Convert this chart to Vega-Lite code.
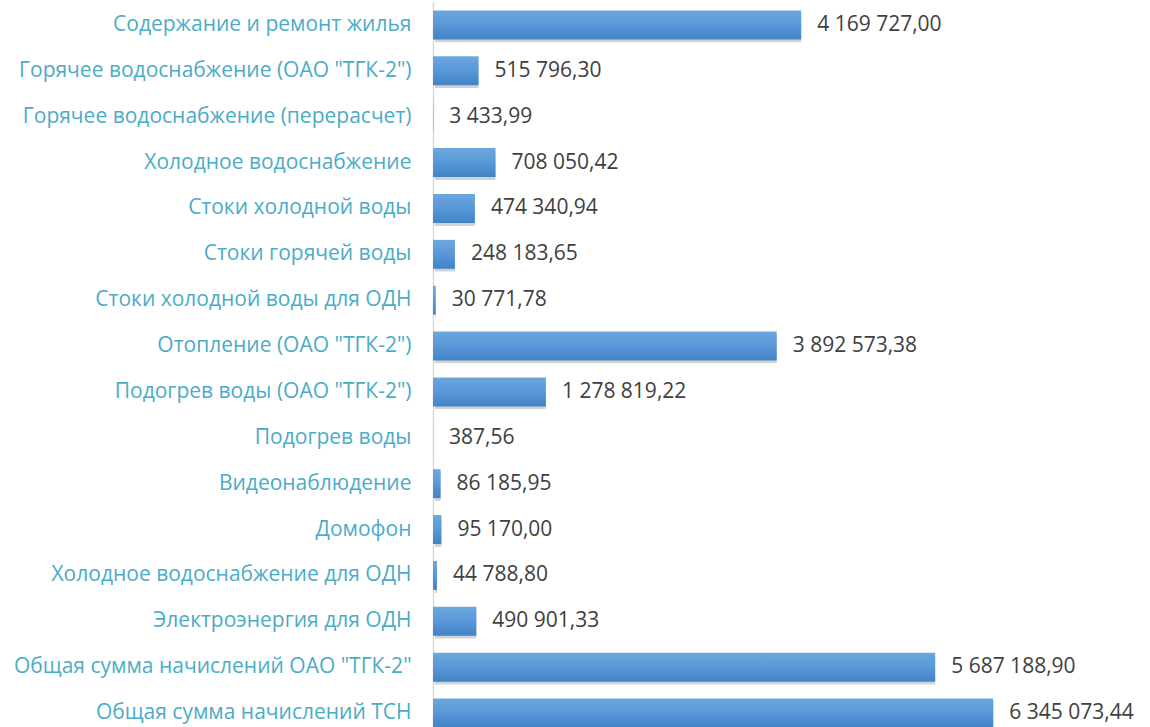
{
  "$schema": "https://vega.github.io/schema/vega-lite/v6.json",
  "autosize": {"type": "none"},
  "padding": {"left": 433, "top": 0, "right": 0, "bottom": 0},
  "width": 717,
  "height": 727,
  "background": "white",
  "config": {
    "view": {"stroke": null},
    "locale": {"number": {"decimal": ",", "thousands": " ", "grouping": [3], "currency": ["", ""]}}
  },
  "data": {"values": [
    {"cat": "Содержание и ремонт жилья", "v": 4169727.00},
    {"cat": "Горячее водоснабжение (ОАО \"ТГК-2\")", "v": 515796.30},
    {"cat": "Горячее водоснабжение (перерасчет)", "v": 3433.99},
    {"cat": "Холодное водоснабжение", "v": 708050.42},
    {"cat": "Стоки холодной воды", "v": 474340.94},
    {"cat": "Стоки горячей воды", "v": 248183.65},
    {"cat": "Стоки холодной воды для ОДН", "v": 30771.78},
    {"cat": "Отопление (ОАО \"ТГК-2\")", "v": 3892573.38},
    {"cat": "Подогрев воды (ОАО \"ТГК-2\")", "v": 1278819.22},
    {"cat": "Подогрев воды", "v": 387.56},
    {"cat": "Видеонаблюдение", "v": 86185.95},
    {"cat": "Домофон", "v": 95170.00},
    {"cat": "Холодное водоснабжение для ОДН", "v": 44788.80},
    {"cat": "Электроэнергия для ОДН", "v": 490901.33},
    {"cat": "Общая сумма начислений ОАО \"ТГК-2\"", "v": 5687188.90},
    {"cat": "Общая сумма начислений ТСН", "v": 6345073.44}
  ]},
  "encoding": {
    "y": {
      "field": "cat", "type": "nominal", "sort": null,
      "scale": {"range": [2, 736], "paddingInner": 0.37, "paddingOuter": 0.185},
      "axis": {
        "title": null, "ticks": false, "domainColor": "#d9d9d9", "domainWidth": 1.5,
        "labelColor": "#4bacc6", "labelFont": "Open Sans", "labelFontSize": 21,
        "labelPadding": 22, "labelLimit": 440
      }
    },
    "x": {
      "field": "v", "type": "quantitative",
      "scale": {"domain": [0, 8120000], "nice": false},
      "axis": null
    }
  },
  "layer": [
    {
      "mark": {"type": "bar", "fill": "#7f7f7f", "opacity": 0.35, "xOffset": 2, "yOffset": 3, "cornerRadius": 1}
    },
    {
      "mark": {
        "type": "bar",
        "color": {
          "gradient": "linear", "x1": 0, "y1": 0, "x2": 0, "y2": 1,
          "stops": [{"offset": 0, "color": "#6da7de"}, {"offset": 0.5, "color": "#5898d8"}, {"offset": 1, "color": "#4282c6"}]
        }
      }
    },
    {
      "mark": {"type": "text", "align": "left", "dx": 16, "font": "Open Sans", "fontSize": 21, "color": "#404040"},
      "encoding": {"text": {"field": "v", "type": "quantitative", "format": ",.2f"}}
    }
  ]
}
